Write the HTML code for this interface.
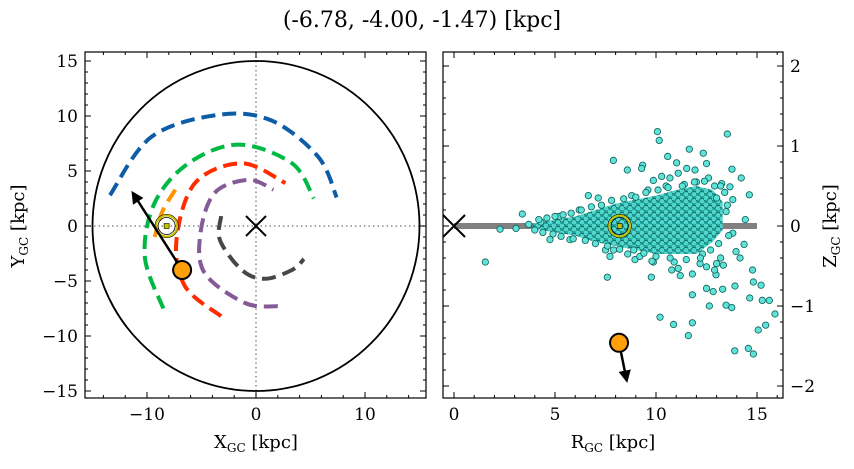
<!DOCTYPE html>
<html><head><meta charset="utf-8">
<style>
body{margin:0;background:#fff;}
svg text{font-family:"DejaVu Serif","Liberation Serif",serif;fill:#000;}
</style></head>
<body>
<svg id="fig" width="854" height="464" xmlns="http://www.w3.org/2000/svg">
<defs>
<pattern id="dots" width="8" height="7" patternUnits="userSpaceOnUse">
<rect width="8" height="7" fill="#26ada5"/>
<circle cx="2" cy="2" r="3" fill="#4fd6cc" stroke="#0b5e58" stroke-width="0.7"/>
<circle cx="6" cy="5.5" r="3" fill="#4fd6cc" stroke="#0b5e58" stroke-width="0.7"/>
</pattern>
<clipPath id="clipL"><rect x="85" y="52" width="341" height="346"/></clipPath>
<clipPath id="clipR"><rect x="443" y="52" width="340" height="346"/></clipPath>
<marker id="ah" viewBox="0 0 10 10" refX="8" refY="5" markerWidth="5" markerHeight="5" orient="auto"><path d="M0,0 L10,5 L0,10 z" fill="#000"/></marker>
</defs>
<text x="422" y="27" font-size="22" text-anchor="middle">(-6.78, -4.00, -1.47) [kpc]</text>
<g id="left"></g>
<g id="right"></g>
</svg>
<script>
// ---- data ----
const sunXY=[-8.2,0];
const objXY=[-6.78,-4.00];
const objArrowTipXY=[-11.3,3.0];
const galaxyRadius=15;
const arcNames=['blue','green','orange','red','purple','grey'];
const arcColors=['#0c5da5','#00b945','#ff9500','#ff2c00','#845b97','#474747'];
const arcBlue=[[-13.4,2.8],[-9.6,8.1],[-3.5,10.1],[1.4,9.6],[5.7,6.3],[7.4,2.6]];
const arcGreen=[[-8.5,-7.5],[-10.2,-2.8],[-9.3,2.1],[-6.2,5.7],[-1.6,7.4],[3.3,5.7],[5.3,2.5]];
const arcOrange=[[-7.4,3.3],[-8.6,1.3],[-9.3,-1.0]];
const arcRed=[[-3.2,-8.2],[-6.5,-5.5],[-7.3,-1.3],[-5.6,3.9],[-1.3,5.7],[2.7,3.9]];
const arcPurple=[[2.0,-7.3],[-1,-7.0],[-4.7,-4.3],[-5.1,-0.7],[-3.8,3.0],[-0.7,4.2],[1.6,3.3]];
const arcGrey=[[-3.2,0.9],[-3.3,-1.3],[-1.3,-4.0],[0.8,-4.8],[3.3,-4.0],[4.4,-3.0]];
const xTicksL=[-10,0,10];
const yTicksL=[-15,-10,-5,0,5,10,15];
// right panel
const sunRZ=[8.2,0];
const objRZ=[8.17,-1.46];
const objArrowTipRZ=[8.55,-1.93];
const discLineR=[0,15];
const envR=[3.9,5,6,7,8,9,10,11,12,12.8,13.3];
const envUp=[0.03,0.08,0.12,0.2,0.28,0.33,0.38,0.45,0.5,0.45,0.3];
const envLo=[-0.03,-0.08,-0.12,-0.2,-0.25,-0.3,-0.35,-0.35,-0.35,-0.2,-0.05];
const starR=[10.07,10.16,13.53,7.89,8.58,9.34,11.65,12.34,13.76,14.22,14.62,14.42,1.55,3.38,2.28,3.07,7.59,9.77,11.8,10.2,10.87,11.8,11.6,13.9,14.57,14.82,15.06,15.43,15.89,15.61,15.26,15.2,14.82,14.78,14.64,13.91,13.47,13.75,12.64,12.5,12.83,13.3,12.97,13.33,13.0,12.18,12.5,13.96,14.16,14.36,13.8,13.47,13.53,13.8,13.66,13.25,12.5,11.93,11.52,11.1,10.58,11.02,10.28,10.69,9.87,9.29,6.65,7.14,7.72,8.96,9.87,10.78,11.1,4.75,5.74,12.0,12.6,11.4,10.5,9.6,8.8,13.2,12.9,11.8,10.9,9.2,7.5,6.2,5.2,4.3,4.0,3.7,12.3,11.2,13.0,
 4.2,4.6,5.0,5.4,5.8,6.3,6.8,7.3,7.8,8.4,9.0,9.5,10.1,10.6,11.3,11.9,12.4,12.9,13.4,13.2,
 4.4,4.9,5.3,5.9,6.5,7.0,7.6,8.2,8.9,9.4,10.0,10.7,11.5,12.2,12.7,13.1,13.6,9.8,8.6,7.9];
const starZ=[1.18,1.07,1.15,0.82,0.70,0.76,0.96,0.91,0.71,0.60,0.39,0.08,-0.45,0.15,-0.04,-0.03,-0.64,-0.64,-0.86,-1.14,-1.23,-1.21,-1.37,-1.56,-1.53,-1.60,-1.30,-1.24,-1.10,-0.93,-0.93,-0.74,-0.70,-0.55,-0.90,-0.75,-0.99,-1.02,-1.0,-0.78,-0.82,-0.79,-0.61,-0.49,-0.47,-0.47,-0.51,-0.32,-0.40,-0.23,-0.09,0.18,0.26,0.33,0.49,0.53,0.78,0.70,0.72,0.66,0.87,0.79,0.62,0.60,0.57,0.72,0.38,0.35,-0.38,-0.42,-0.45,-0.55,-0.53,-0.17,-0.17,0.55,0.6,0.52,0.5,0.45,0.38,-0.4,-0.55,-0.6,-0.45,-0.38,-0.3,0.2,0.12,0.05,-0.05,0.02,-0.35,-0.62,0.35,
 0.08,0.1,0.12,0.14,0.16,0.2,0.24,0.26,0.32,0.34,0.36,0.42,0.45,0.48,0.5,0.55,0.56,0.5,0.42,0.5,
 -0.08,-0.1,-0.13,-0.16,-0.18,-0.22,-0.25,-0.29,-0.3,-0.34,-0.38,-0.4,-0.42,-0.4,-0.3,-0.22,-0.12,-0.44,-0.35,-0.3];
const xTicksR=[0,5,10,15];
const yTicksR=[-2,-1,0,1,2];

const NS='http://www.w3.org/2000/svg';
function mk(tag,attrs,parent){const e=document.createElementNS(NS,tag);for(const k in attrs)e.setAttribute(k,attrs[k]);parent.appendChild(e);return e;}
const L={x0:85,x1:426,y0:52,y1:398};
const sxL=v=>256+v*10.9, syL=v=>226-v*11;
const R={x0:443,x1:783,y0:52,y1:398};
const sxR=v=>454+v*20.2, syR=v=>226-v*80;

const gl=document.getElementById('left'), gr=document.getElementById('right');
function spline(pts,sx,sy){
  const p=pts.map(q=>[sx(q[0]),sy(q[1])]);
  let d='M'+p[0][0]+','+p[0][1];
  for(let i=0;i<p.length-1;i++){
    const p0=p[i-1]||p[i],p1=p[i],p2=p[i+1],p3=p[i+2]||p[i+1];
    d+=' C'+(p1[0]+(p2[0]-p0[0])/6)+','+(p1[1]+(p2[1]-p0[1])/6)+' '+(p2[0]-(p3[0]-p1[0])/6)+','+(p2[1]-(p3[1]-p1[1])/6)+' '+p2[0]+','+p2[1];
  }
  return d;
}
// ---- left panel ----
const cl=mk('g',{'clip-path':'url(#clipL)'},gl);
let e=mk('line',{x1:sxL(0),x2:sxL(0),y1:L.y0,y2:L.y1,stroke:'#888','stroke-width':1.5,'stroke-dasharray':'1.5,3'},cl);

e=mk('line',{x1:L.x0,x2:L.x1,y1:syL(0),y2:syL(0),stroke:'#888','stroke-width':1.5,'stroke-dasharray':'1.5,3'},cl);

e=mk('ellipse',{cx:sxL(0),cy:syL(0),rx:galaxyRadius*10.9,ry:galaxyRadius*11,fill:'none',stroke:'#000','stroke-width':1.8},cl);

const arcs=[arcBlue,arcGreen,arcOrange,arcRed,arcPurple,arcGrey];
arcs.forEach((a,i)=>{
  const p=mk('path',{d:spline(a,sxL,syL),fill:'none',stroke:arcColors[i],'stroke-width':4,'stroke-dasharray':'14,7'},cl);
  
  
});
function cross(g,cx,cy,s,name){
  const c=mk('path',{d:`M${cx-s},${cy-s}L${cx+s},${cy+s}M${cx-s},${cy+s}L${cx+s},${cy-s}`,stroke:'#000','stroke-width':2,fill:'none'},g);
  
}
cross(cl,sxL(0),syL(0),10,'galactic-center-marker');
function sun(g,cx,cy){
  const s=mk('g',{},g);
  
  mk('circle',{cx,cy,r:11.5,fill:'none',stroke:'#000','stroke-width':1},s);
  mk('circle',{cx,cy,r:10.5,fill:'none',stroke:'#c8c000','stroke-width':2},s);
  mk('circle',{cx,cy,r:8.5,fill:'none',stroke:'#000','stroke-width':0.8},s);
  mk('rect',{x:cx-2.5,y:cy-2.5,width:5,height:5,fill:'#c8c000',stroke:'#000','stroke-width':0.6},s);
}
sun(cl,sxL(sunXY[0]),syL(sunXY[1]));
e=mk('line',{x1:sxL(objXY[0]),y1:syL(objXY[1]),x2:sxL(objArrowTipXY[0]),y2:syL(objArrowTipXY[1]),stroke:'#000','stroke-width':2.5,'marker-end':'url(#ah)'},cl);

e=mk('circle',{cx:sxL(objXY[0]),cy:syL(objXY[1]),r:9,fill:'#ff9f0a',stroke:'#000','stroke-width':2},cl);


// ---- right panel ----
const cr=mk('g',{'clip-path':'url(#clipR)'},gr);
e=mk('line',{x1:sxR(discLineR[0]),x2:sxR(discLineR[1]),y1:syR(0),y2:syR(0),stroke:'#808080','stroke-width':6},cr);

let env='M'+envR.map((r,i)=>sxR(r)+','+syR(envUp[i])).join(' L')+' L'+envR.map((r,i)=>[r,envLo[i]]).reverse().map(q=>sxR(q[0])+','+syR(q[1])).join(' L')+'Z';
e=mk('path',{d:env,fill:'url(#dots)',stroke:'none'},cr);

starR.forEach((r,i)=>{
  const c=mk('circle',{cx:sxR(r),cy:syR(starZ[i]),r:3.2,fill:'#5fe3d8',stroke:'#0b5e58','stroke-width':0.8},cr);
  
  
});
cross(cr,sxR(0),syR(0),11,'galactic-center-marker-rz');
sun(cr,sxR(sunRZ[0]),syR(sunRZ[1]));
e=mk('line',{x1:sxR(objRZ[0]),y1:syR(objRZ[1]),x2:sxR(objArrowTipRZ[0]),y2:syR(objArrowTipRZ[1]),stroke:'#000','stroke-width':2.5,'marker-end':'url(#ah)'},cr);

e=mk('circle',{cx:sxR(objRZ[0]),cy:syR(objRZ[1]),r:9,fill:'#ff9f0a',stroke:'#000','stroke-width':2},cr);


// ---- frames and ticks ----
function frame(g,B,name){
  const f=mk('rect',{x:B.x0,y:B.y0,width:B.x1-B.x0,height:B.y1-B.y0,fill:'none',stroke:'#000','stroke-width':1.2},g);
  
}
function ticks(g,B,sx,sy,xMaj,yMaj,xMin,yMin,xr,yr){
  for(let v=xr[0];v<=xr[1]+1e-9;v+=xMin){const x=sx(v);if(x<B.x0||x>B.x1)continue;const maj=xMaj.some(m=>Math.abs(m-v)<1e-6);const l=maj?6:3;
    mk('line',{x1:x,x2:x,y1:B.y1,y2:B.y1-l,stroke:'#000','stroke-width':1},g);mk('line',{x1:x,x2:x,y1:B.y0,y2:B.y0+l,stroke:'#000','stroke-width':1},g);}
  for(let v=yr[0];v<=yr[1]+1e-9;v+=yMin){const y=sy(v);if(y<B.y0||y>B.y1)continue;const maj=yMaj.some(m=>Math.abs(m-v)<1e-6);const l=maj?6:3;
    mk('line',{x1:B.x0,x2:B.x0+l,y1:y,y2:y,stroke:'#000','stroke-width':1},g);mk('line',{x1:B.x1,x2:B.x1-l,y1:y,y2:y,stroke:'#000','stroke-width':1},g);}
}
frame(gl,L,'xy-plot-frame');frame(gr,R,'rz-plot-frame');
ticks(gl,L,sxL,syL,xTicksL,yTicksL,2,1,[-16,16],[-16,16]);
ticks(gr,R,sxR,syR,xTicksR,yTicksR,1,0.2,[-1,16],[-2.2,2.2]);
const fmt=v=>(v<0?'\u2212'+(-v):''+v);
xTicksL.forEach(v=>{const t=mk('text',{x:sxL(v),y:L.y1+22,'font-size':17,'text-anchor':'middle'},gl);t.textContent=fmt(v);
  });
yTicksL.forEach(v=>{const t=mk('text',{x:L.x0-7,y:syL(v)+6,'font-size':17,'text-anchor':'end'},gl);t.textContent=fmt(v);
  });
xTicksR.forEach(v=>{const t=mk('text',{x:sxR(v),y:R.y1+22,'font-size':17,'text-anchor':'middle'},gr);t.textContent=fmt(v);
  });
yTicksR.forEach(v=>{const t=mk('text',{x:R.x1+7,y:syR(v)+6,'font-size':17,'text-anchor':'start'},gr);t.textContent=fmt(v);
  });
</script>
<svg style="position:absolute;left:0;top:0" width="854" height="464" xmlns="http://www.w3.org/2000/svg">
<text x="256" y="448" font-size="18" text-anchor="middle">X<tspan font-size="12" dy="4">GC</tspan><tspan dy="-4"> [kpc]</tspan></text>
<text x="613" y="448" font-size="18" text-anchor="middle">R<tspan font-size="12" dy="4">GC</tspan><tspan dy="-4"> [kpc]</tspan></text>
<text transform="translate(24,226) rotate(-90)" font-size="18" text-anchor="middle">Y<tspan font-size="12" dy="4">GC</tspan><tspan dy="-4"> [kpc]</tspan></text>
<text transform="translate(836,226) rotate(-90)" font-size="18" text-anchor="middle">Z<tspan font-size="12" dy="4">GC</tspan><tspan dy="-4"> [kpc]</tspan></text>
</svg>
</body></html>
